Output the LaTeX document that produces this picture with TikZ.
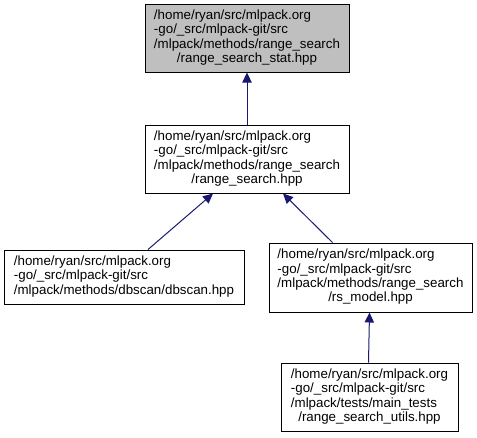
\documentclass[tikz,border=0pt]{standalone}
\usepackage{fontspec}
\setmainfont{Liberation Sans}
\usetikzlibrary{arrows.meta}
\definecolor{edgeblue}{HTML}{191970}
\definecolor{topfill}{HTML}{BFBFBF}
\newcommand{\fl}[4]{\begin{tabular}{@{}l@{}}#1\\#2\\#3\\\multicolumn{1}{@{}c@{}}{#4}\end{tabular}}
\newcommand{\tl}[3]{\begin{tabular}{@{}l@{}}#1\\#2\\#3\end{tabular}}
\begin{document}
\begin{tikzpicture}[x=0.75pt,y=-0.75pt,
  filebox/.style={draw=black, line width=0.75pt, fill=white, inner sep=0pt,
    font=\fontsize{10}{10.8}\selectfont},
  dep/.style={draw=edgeblue, line width=0.75pt,
    -{Triangle[length=7.5pt,width=7pt]}, shorten >=0pt}]
\useasboundingbox (0,0) rectangle (477,437);
\node[filebox, fill=topfill, minimum width=153pt, minimum height=51pt] (top) at (247,38)
  {\fl{/home/ryan/src/mlpack.org}{-go/\_src/mlpack-git/src}{/mlpack/methods/range\_search}{/range\_search\_stat.hpp}};
\node[filebox, minimum width=153pt, minimum height=51pt] (mid) at (247,159)
  {\fl{/home/ryan/src/mlpack.org}{-go/\_src/mlpack-git/src}{/mlpack/methods/range\_search}{/range\_search.hpp}};
\node[filebox, minimum width=180pt, minimum height=40.5pt] (bl) at (124,277)
  {\tl{/home/ryan/src/mlpack.org}{-go/\_src/mlpack-git/src}{/mlpack/methods/dbscan/dbscan.hpp}};
\node[filebox, minimum width=152.25pt, minimum height=51.75pt] (br) at (370.5,277.5)
  {\fl{/home/ryan/src/mlpack.org}{-go/\_src/mlpack-git/src}{/mlpack/methods/range\_search}{/rs\_model.hpp}};
\node[filebox, minimum width=132.75pt, minimum height=51pt] (bot) at (369.5,397)
  {\fl{/home/ryan/src/mlpack.org}{-go/\_src/mlpack-git/src}{/mlpack/tests/main\_tests}{/range\_search\_utils.hpp}};
\draw[dep] (mid.north) -- (top.south);
\draw[dep] ([xshift=18pt]bl.north) -- ([xshift=-25.5pt]mid.south);
\draw[dep] ([xshift=-28.5pt]br.north) -- ([xshift=27pt]mid.south);
\draw[dep] ([xshift=-0.75pt]bot.north) -- ([xshift=-0.75pt]br.south);
\end{tikzpicture}
\end{document}
